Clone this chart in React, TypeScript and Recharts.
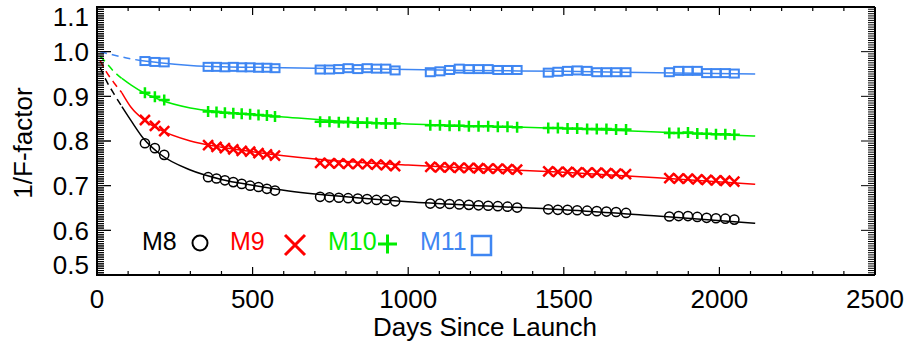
import React from "react";
import { ComposedChart, Line, Scatter, XAxis, YAxis } from "recharts";

const FONT = '"Liberation Sans", Arial, Helvetica, sans-serif';

const BLACK = "#000000";
const RED = "#ff0000";
const GREEN = "#00ee00";
const BLUE = "#3f86f2";

// plot frame (from the chart margins below)
const PLOT_LEFT = 97;
const PLOT_TOP = 7;
const PLOT_BOTTOM = 275;
const Y_MIN = 0.5;
const Y_MAX = 1.1;

// axis ticks
const X_MAJOR = [0, 500, 1000, 1500, 2000, 2500];
const Y_MAJOR = [0.5, 0.6, 0.7, 0.8, 0.9, 1.0, 1.1];
const X_TICKS: number[] = [];
for (let d = 0; d <= 2500; d += 100) X_TICKS.push(d);
const Y_TICKS: number[] = [];
for (let i = 0; i <= 120; i++) Y_TICKS.push(+(0.5 + i * 0.005).toFixed(3));

// measurement days (six campaigns)
const MEAS_DAYS = [
    154, 186, 216,
    357, 384, 411, 438, 465, 492, 519, 546, 572,
    717, 747, 777, 807, 838, 868, 898, 928, 958,
    1071, 1102, 1133, 1164, 1195, 1226, 1257, 1288, 1319, 1350,
    1450, 1481, 1512, 1543, 1575, 1606, 1637, 1668, 1700,
    1839, 1869, 1899, 1929, 1959, 1989, 2019, 2048,
];

const M8_MEAS = [
    0.795, 0.784, 0.769,
    0.719, 0.716, 0.712, 0.708, 0.704, 0.700, 0.697, 0.693, 0.689,
    0.675, 0.674, 0.673, 0.672, 0.671, 0.670, 0.668, 0.668, 0.665,
    0.660, 0.660, 0.659, 0.658, 0.657, 0.656, 0.655, 0.654, 0.653, 0.651,
    0.647, 0.646, 0.646, 0.645, 0.644, 0.643, 0.642, 0.641, 0.639,
    0.631, 0.632, 0.632, 0.630, 0.628, 0.627, 0.626, 0.624,
];
const M9_MEAS = [
    0.847, 0.834, 0.822,
    0.791, 0.787, 0.784, 0.781, 0.778, 0.776, 0.773, 0.770, 0.767,
    0.751, 0.750, 0.750, 0.749, 0.749, 0.748, 0.747, 0.746, 0.744,
    0.742, 0.741, 0.741, 0.740, 0.740, 0.739, 0.738, 0.738, 0.737, 0.736,
    0.732, 0.731, 0.731, 0.730, 0.729, 0.729, 0.728, 0.727, 0.726,
    0.717, 0.716, 0.716, 0.714, 0.713, 0.712, 0.711, 0.709,
];
const M10_MEAS = [
    0.908, 0.899, 0.892,
    0.866, 0.865, 0.863, 0.862, 0.861, 0.860, 0.858, 0.857, 0.855,
    0.843, 0.843, 0.842, 0.842, 0.841, 0.841, 0.840, 0.839, 0.839,
    0.835, 0.835, 0.834, 0.834, 0.833, 0.833, 0.833, 0.832, 0.832, 0.831,
    0.829, 0.829, 0.828, 0.828, 0.827, 0.827, 0.827, 0.826, 0.826,
    0.818, 0.818, 0.819, 0.817, 0.816, 0.815, 0.815, 0.814,
];
const M11_MEAS = [
    0.979, 0.977, 0.976,
    0.966, 0.966, 0.965, 0.966, 0.965, 0.965, 0.964, 0.964, 0.963,
    0.960, 0.960, 0.961, 0.963, 0.961, 0.963, 0.962, 0.962, 0.958,
    0.954, 0.956, 0.959, 0.962, 0.961, 0.961, 0.961, 0.959, 0.959, 0.959,
    0.953, 0.955, 0.957, 0.958, 0.957, 0.954, 0.954, 0.954, 0.954,
    0.954, 0.957, 0.957, 0.957, 0.952, 0.952, 0.952, 0.951,
];

// fitted trends: dashed extrapolation before first campaign, solid afterwards
const DASH_DAYS = [10, 30, 55, 80];
const FIT_DAYS = [80, 110, 150, 200, 300, 400, 500, 600, 800, 1000, 1200, 1500, 1800, 2115];
const M8_DASH = [0.965, 0.935, 0.905, 0.877];
const M8_FIT = [0.877, 0.845, 0.805, 0.772, 0.735, 0.714, 0.701, 0.69, 0.675, 0.664, 0.656, 0.646, 0.632, 0.616];
const M9_DASH = [0.98, 0.955, 0.93, 0.908];
const M9_FIT = [0.908, 0.875, 0.848, 0.826, 0.8, 0.786, 0.776, 0.767, 0.754, 0.746, 0.739, 0.73, 0.718, 0.703];
const M10_DASH = [0.99, 0.975, 0.955, 0.94];
const M10_FIT = [0.94, 0.925, 0.908, 0.893, 0.874, 0.865, 0.859, 0.854, 0.844, 0.838, 0.834, 0.828, 0.82, 0.811];
const M11_DASH_DAYS = [10, 50, 95, 140];
const M11_DASH = [1.0, 0.993, 0.986, 0.98];
const M11_FIT_DAYS = [140, 200, 300, 400, 500, 600, 800, 1000, 1200, 1500, 1800, 2115];
const M11_FIT = [0.98, 0.975, 0.969, 0.966, 0.965, 0.964, 0.962, 0.96, 0.958, 0.956, 0.953, 0.95];

const zip = (days: number[], vals: number[]) => days.map((day, i) => ({ day, v: vals[i] }));

const near = (v: number, list: number[]) => list.some((m) => Math.abs(m - v) < 1e-6);

function BottomTick(props: any) {
    const x = Number(props.x);
    const y = Number(props.y);
    const v = props.payload.value;
    const major = near(v, X_MAJOR);
    return (
        <g>
            <line x1={x} x2={x} y1={y} y2={y - (major ? 8 : 4)} stroke="#000" strokeWidth={1.2} />
            {major && (
                <text x={x} y={y + 33} textAnchor="middle" fontSize={26} fontFamily={FONT} fill="#000">
                    {v}
                </text>
            )}
        </g>
    );
}

function TopTick(props: any) {
    const x = Number(props.x);
    const y = Number(props.y);
    const major = near(props.payload.value, X_MAJOR);
    return <line x1={x} x2={x} y1={y} y2={y + (major ? 8 : 4)} stroke="#000" strokeWidth={1.2} />;
}

function LeftTick(props: any) {
    const x = Number(props.x);
    const y = Number(props.y);
    const v = props.payload.value;
    const major = near(v, Y_MAJOR);
    // end labels are nudged inside the frame, as in the original plot
    const shift = near(v, [0.5]) ? -10 : near(v, [1.1]) ? 10 : 0;
    return (
        <g>
            <line x1={x} x2={x + (major ? 14 : 7)} y1={y} y2={y} stroke="#000" strokeWidth={1} />
            {major && (
                <text x={x - 8} y={y + shift} dy="0.36em" textAnchor="end" fontSize={26} fontFamily={FONT} fill="#000">
                    {v.toFixed(1)}
                </text>
            )}
        </g>
    );
}

function RightTick(props: any) {
    const x = Number(props.x);
    const y = Number(props.y);
    const major = near(props.payload.value, Y_MAJOR);
    return <line x1={x} x2={x - (major ? 14 : 7)} y1={y} y2={y} stroke="#000" strokeWidth={1} />;
}

// left frame edge drawn on top of the chart (the axis layer there gets hidden)
function LeftFrame() {
    const toY = (v: number) => PLOT_BOTTOM - ((v - Y_MIN) / (Y_MAX - Y_MIN)) * (PLOT_BOTTOM - PLOT_TOP);
    return (
        <svg width={906} height={341} style={{ position: "absolute", left: 0, top: 0, pointerEvents: "none" }}>
            <line x1={PLOT_LEFT} x2={PLOT_LEFT} y1={PLOT_TOP - 1} y2={PLOT_BOTTOM + 1} stroke="#000" strokeWidth={2} />
            {Y_TICKS.map((v) => (
                <line
                    key={v}
                    x1={PLOT_LEFT}
                    x2={PLOT_LEFT + (near(v, Y_MAJOR) ? 14 : 7)}
                    y1={toY(v)}
                    y2={toY(v)}
                    stroke="#000"
                    strokeWidth={1}
                />
            ))}
        </svg>
    );
}

const CircleMark = ({ cx, cy }: any) => (
    <circle cx={cx} cy={cy} r={4.6} fill="none" stroke={BLACK} strokeWidth={1.5} />
);
const CrossMark = ({ cx, cy }: any) => (
    <path d={`M${cx - 5},${cy - 5}L${cx + 5},${cy + 5}M${cx - 5},${cy + 5}L${cx + 5},${cy - 5}`} fill="none" stroke={RED} strokeWidth={2.5} />
);
const PlusMark = ({ cx, cy }: any) => (
    <path d={`M${cx - 5.5},${cy}L${cx + 5.5},${cy}M${cx},${cy - 5.5}L${cx},${cy + 5.5}`} fill="none" stroke={GREEN} strokeWidth={2.5} />
);
const SquareMark = ({ cx, cy }: any) => (
    <rect x={cx - 4.5} y={cy - 4} width={9} height={8} fill="none" stroke={BLUE} strokeWidth={2} />
);

// x-axis title plus the in-plot legend
function BottomLabel() {
    const t = { fontSize: 25, fontFamily: FONT };
    return (
        <g>
            <text x={485} y={336} textAnchor="middle" fontSize={26} fontFamily={FONT} fill="#000">
                Days Since Launch
            </text>
            <text x={142} y={250} fill={BLACK} {...t}>M8</text>
            <circle cx={200} cy={243} r={7.5} fill="none" stroke={BLACK} strokeWidth={2} />
            <text x={230} y={250} fill={RED} {...t}>M9</text>
            <path d="M285,235L305,255M285,255L305,235" fill="none" stroke={RED} strokeWidth={3} />
            <text x={328} y={250} fill={GREEN} {...t}>M10</text>
            <path d="M378,244L397,244M387.5,234.5L387.5,253.5" fill="none" stroke={GREEN} strokeWidth={3} />
            <text x={420} y={250} fill={BLUE} {...t}>M11</text>
            <rect x={472} y={236} width={19} height={19} fill="none" stroke={BLUE} strokeWidth={2.5} />
        </g>
    );
}

function LeftLabel() {
    return (
        <text x={32} y={143} transform="rotate(-90 32 143)" textAnchor="middle" fontSize={26} fontFamily={FONT} fill="#000">
            1/F-factor
        </text>
    );
}

export default function App() {
    const series = [
        { dash: zip(DASH_DAYS, M8_DASH), fit: zip(FIT_DAYS, M8_FIT), pts: zip(MEAS_DAYS, M8_MEAS), color: BLACK, shape: CircleMark },
        { dash: zip(DASH_DAYS, M9_DASH), fit: zip(FIT_DAYS, M9_FIT), pts: zip(MEAS_DAYS, M9_MEAS), color: RED, shape: CrossMark },
        { dash: zip(DASH_DAYS, M10_DASH), fit: zip(FIT_DAYS, M10_FIT), pts: zip(MEAS_DAYS, M10_MEAS), color: GREEN, shape: PlusMark },
        { dash: zip(M11_DASH_DAYS, M11_DASH), fit: zip(M11_FIT_DAYS, M11_FIT), pts: zip(MEAS_DAYS, M11_MEAS), color: BLUE, shape: SquareMark },
    ];

    const axisLine = { stroke: "#000", strokeWidth: 2 };

    return (
        <div style={{ position: "absolute", left: 0, top: 0, width: 906, height: 341, background: "#fff" }}>
            <ComposedChart width={906} height={341} margin={{ top: 5, right: 29, bottom: 0, left: 0 }}>
                <XAxis
                    type="number"
                    dataKey="day"
                    domain={[0, 2500]}
                    ticks={X_TICKS}
                    interval={0}
                    height={66}
                    tickSize={0}
                    tickMargin={0}
                    tickLine={false}
                    axisLine={axisLine}
                    tick={<BottomTick />}
                    allowDataOverflow
                    label={{ content: <BottomLabel /> }}
                />
                <XAxis
                    xAxisId="top"
                    orientation="top"
                    type="number"
                    dataKey="day"
                    domain={[0, 2500]}
                    ticks={X_TICKS}
                    interval={0}
                    height={2}
                    tickSize={0}
                    tickMargin={0}
                    tickLine={false}
                    axisLine={axisLine}
                    tick={<TopTick />}
                    allowDataOverflow
                />
                <YAxis
                    type="number"
                    domain={[Y_MIN, Y_MAX]}
                    ticks={Y_TICKS}
                    interval={0}
                    width={97}
                    tickSize={0}
                    tickMargin={0}
                    tickLine={false}
                    axisLine={axisLine}
                    tick={<LeftTick />}
                    allowDataOverflow
                    label={{ content: <LeftLabel /> }}
                />
                <YAxis
                    yAxisId="right"
                    orientation="right"
                    type="number"
                    domain={[Y_MIN, Y_MAX]}
                    ticks={Y_TICKS}
                    interval={0}
                    width={2}
                    tickSize={0}
                    tickMargin={0}
                    tickLine={false}
                    axisLine={axisLine}
                    tick={<RightTick />}
                    allowDataOverflow
                />
                {series.map((s, i) => (
                    <Line
                        key={`dash-${i}`}
                        data={s.dash}
                        dataKey="v"
                        type="monotone"
                        stroke={s.color}
                        strokeWidth={1.5}
                        strokeDasharray="7 5"
                        dot={false}
                        activeDot={false}
                        isAnimationActive={false}
                    />
                ))}
                {series.map((s, i) => (
                    <Line
                        key={`fit-${i}`}
                        data={s.fit}
                        dataKey="v"
                        type="monotone"
                        stroke={s.color}
                        strokeWidth={1.5}
                        dot={false}
                        activeDot={false}
                        isAnimationActive={false}
                    />
                ))}
                {series.map((s, i) => (
                    <Scatter
                        key={`pts-${i}`}
                        data={s.pts}
                        dataKey="v"
                        shape={s.shape}
                        isAnimationActive={false}
                    />
                ))}
            </ComposedChart>
            <LeftFrame />
        </div>
    );
}
